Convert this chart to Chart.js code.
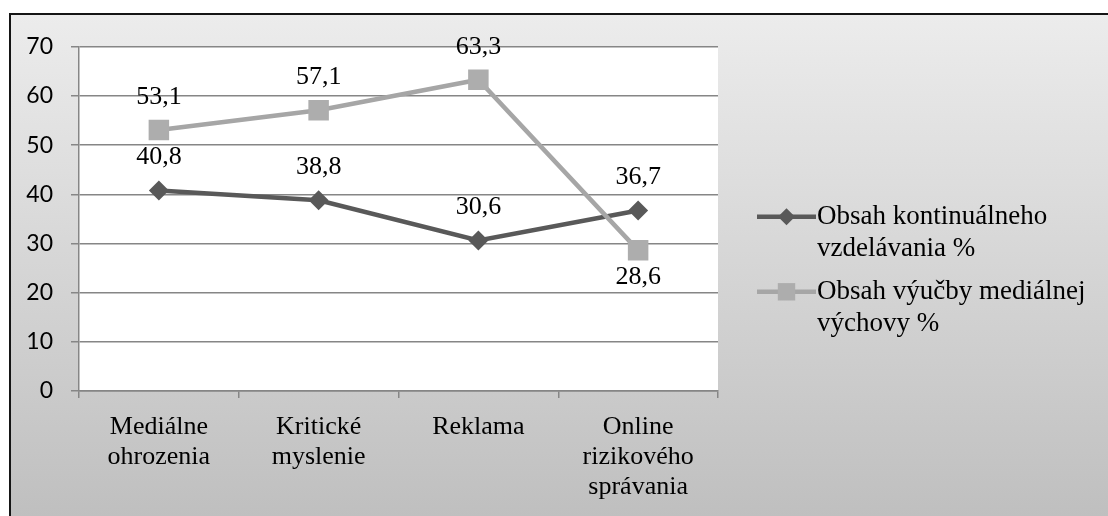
<!DOCTYPE html>
<html>
<head>
<meta charset="utf-8">
<script src="https://cdn.jsdelivr.net/npm/chart.js@4.4.1/dist/chart.umd.min.js"></script>
<style>
  html, body { margin: 0; padding: 0; background: #fff; overflow: hidden; }
  .frame {
    position: absolute; left: 9px; top: 13px; width: 1120px; height: 520px;
    border-top: 2px solid #151515; border-left: 2px solid #151515;
    background: linear-gradient(to bottom, #ececec 0px, #bfbfbf 503px);
  }
  #chart { position: absolute; left: 11px; top: 15px; }
</style>
</head>
<body>
<div class="frame"></div>
<canvas id="chart" width="1097" height="501"></canvas>
<script>
// data
const categories = [
  ['Mediálne', 'ohrozenia'],
  ['Kritické', 'myslenie'],
  'Reklama',
  ['Online', 'rizikového', 'správania']
];
const seriesNames = ['Obsah kontinuálneho vzdelávania %', 'Obsah výučby mediálnej výchovy %'];
const continualEdu = [40.8, 38.8, 30.6, 36.7];
const mediaEdu = [53.1, 57.1, 63.3, 28.6];
const yTicks = [0, 10, 20, 30, 40, 50, 60, 70];

const serif = '"Liberation Serif", serif';
const sans = 'Lato, "Open Sans", sans-serif';
const gridColor = '#868686';

// white plot area
const plotBackground = {
  id: 'plotBackground',
  beforeDraw(chart) {
    const { ctx, chartArea: a } = chart;
    ctx.save();
    ctx.fillStyle = '#ffffff';
    ctx.fillRect(a.left, a.top, a.right - a.left, a.bottom - a.top);
    ctx.restore();
  }
};

// value labels, comma as decimal mark
const valueLabels = {
  id: 'valueLabels',
  afterDatasetsDraw(chart) {
    const ctx = chart.ctx;
    ctx.save();
    ctx.font = '26px ' + serif;
    ctx.fillStyle = '#000';
    ctx.textAlign = 'center';
    ctx.textBaseline = 'middle';
    chart.data.datasets.forEach((ds, di) => {
      const meta = chart.getDatasetMeta(di);
      meta.data.forEach((pt, i) => {
        const below = ds.labelBelow && ds.labelBelow[i];
        const txt = String(ds.data[i]).replace('.', ',');
        ctx.fillText(txt, pt.x, below ? pt.y + 27 : pt.y - 33);
      });
    });
    ctx.restore();
  }
};

// legend on the right: line + marker, wrapped text
const sideLegend = {
  id: 'sideLegend',
  afterDraw(chart) {
    const { ctx, chartArea: a } = chart;
    const x0 = a.right + 39, x1 = a.right + 98;
    const textX = x1 + 1;
    const maxW = chart.width - textX - 2;
    let y = a.top + 170;
    ctx.save();
    ctx.font = '27px ' + serif;
    chart.data.datasets.forEach((ds) => {
      // wrap label
      const words = ds.label.split(' ');
      const lines = [];
      let cur = '';
      words.forEach(w => {
        const t = cur ? cur + ' ' + w : w;
        if (ctx.measureText(t).width > maxW && cur) { lines.push(cur); cur = w; }
        else cur = t;
      });
      if (cur) lines.push(cur);

      ctx.strokeStyle = ds.borderColor;
      ctx.lineWidth = ds.borderWidth;
      ctx.beginPath();
      ctx.moveTo(x0, y);
      ctx.lineTo(x1, y);
      ctx.stroke();
      ctx.fillStyle = ds.pointBackgroundColor;
      Chart.helpers.drawPoint(ctx, {
        pointStyle: ds.pointStyle, radius: ds.pointRadius * 0.85, borderWidth: 0
      }, (x0 + x1) / 2, y);

      ctx.fillStyle = '#000';
      ctx.textAlign = 'left';
      ctx.textBaseline = 'middle';
      lines.forEach((ln, k) => ctx.fillText(ln, textX, y + k * 32));
      y += lines.length * 32 + 11;
    });
    ctx.restore();
  }
};

new Chart(document.getElementById('chart'), {
  type: 'line',
  data: {
    labels: categories,
    datasets: [
      {
        label: seriesNames[0],
        data: continualEdu,
        borderColor: '#595959',
        backgroundColor: '#595959',
        pointBackgroundColor: '#595959',
        pointBorderColor: '#595959',
        borderWidth: 4.5,
        pointStyle: 'rectRot',
        pointRadius: 10,
        pointBorderWidth: 0,
        tension: 0,
        order: 2
      },
      {
        label: seriesNames[1],
        data: mediaEdu,
        borderColor: '#a6a6a6',
        backgroundColor: '#a6a6a6',
        pointBackgroundColor: '#adadad',
        pointBorderColor: '#adadad',
        borderWidth: 4.5,
        pointStyle: 'rect',
        pointRadius: 14.5,
        pointBorderWidth: 0,
        tension: 0,
        labelBelow: [false, false, false, true],
        order: 1
      }
    ]
  },
  options: {
    responsive: false,
    animation: false,
    events: [],
    layout: { padding: { top: 28, right: 390, bottom: 0, left: 0 } },
    plugins: {
      legend: { display: false },
      tooltip: { enabled: false }
    },
    scales: {
      x: {
        offset: true,
        grid: {
          offset: true,
          drawOnChartArea: false,
          drawTicks: true,
          tickLength: 7,
          color: gridColor,
          lineWidth: 1.5
        },
        border: { display: true, color: gridColor, width: 1.5 },
        ticks: {
          color: '#000',
          padding: 14,
          maxRotation: 0,
          autoSkip: false,
          font: { family: serif, size: 26, lineHeight: '30px' }
        },
        afterFit(scale) { scale.height = 125; }
      },
      y: {
        min: 0,
        max: 70,
        afterBuildTicks(scale) { scale.ticks = yTicks.map(v => ({ value: v })); },
        grid: {
          color: gridColor,
          lineWidth: 1.5,
          tickLength: 8
        },
        border: { display: true, color: gridColor, width: 1.5 },
        ticks: {
          color: '#000',
          padding: 18,
          font: { family: sans, size: 23 }
        },
        afterFit(scale) { scale.width = 68; }
      }
    }
  },
  plugins: [plotBackground, valueLabels, sideLegend]
});
</script>
</body>
</html>
